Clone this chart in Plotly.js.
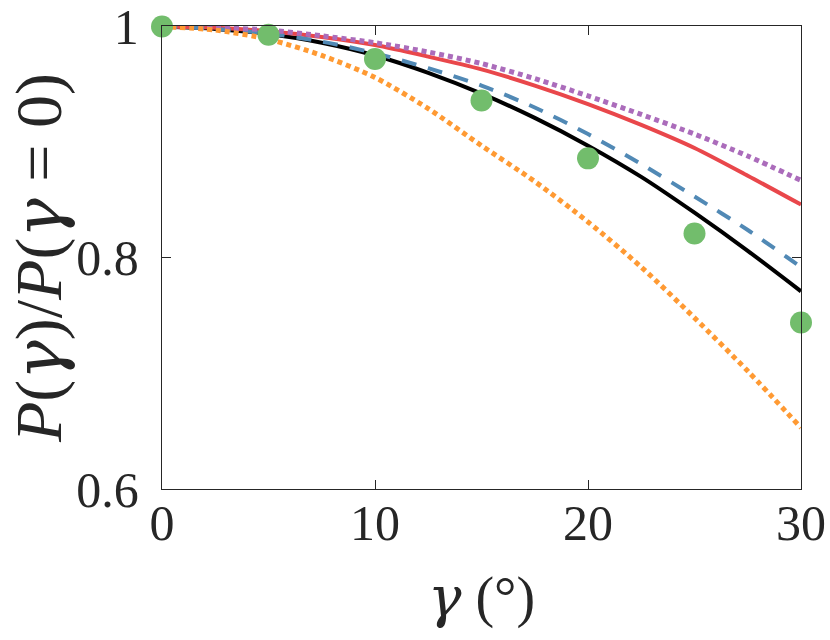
<!DOCTYPE html>
<html>
<head>
<meta charset="utf-8">
<script src="https://cdn.plot.ly/plotly-3.0.1.min.js"></script>
<style>
  html, body { margin: 0; padding: 0; background: #fff; }
  #chart { width: 830px; height: 640px; }
</style>
</head>
<body>
<div id="chart"></div>
<script>
/* ---------- data ---------- */
const gammaCurve = [0, 2.5, 5, 7.5, 10, 12.5, 15, 17.5, 20, 22.5, 25, 27.5, 30];

const blackSolid = [1, 0.998, 0.9935, 0.986, 0.975, 0.960, 0.942, 0.921, 0.897, 0.870, 0.839, 0.806, 0.771];
const blueDashed = [1, 0.998, 0.994, 0.987, 0.977, 0.964, 0.949, 0.930, 0.907, 0.881, 0.853, 0.824, 0.792];
const redSolid = [1, 0.999, 0.996, 0.991, 0.984, 0.974, 0.963, 0.949, 0.933, 0.915, 0.895, 0.871, 0.846];
const purpleDotted = [1, 0.999, 0.997, 0.992, 0.986, 0.978, 0.968, 0.955, 0.940, 0.924, 0.907, 0.888, 0.867];
const orangeDotted = [1, 0.997, 0.989, 0.975, 0.956, 0.929, 0.897, 0.866, 0.831, 0.792, 0.748, 0.702, 0.653];

const gammaPts = [0, 5, 10, 15, 20, 25, 30];
const greenPts = [1, 0.993, 0.972, 0.936, 0.886, 0.821, 0.744];

const xTicks = [0, 10, 20, 30];
const yTicks = [0.6, 0.8, 1];
const yTickText = ["0.6", "0.8", "1"];

/* ---------- traces ---------- */
function curve(y, color, dash, width) {
  return {
    x: gammaCurve,
    y: y,
    type: "scatter",
    mode: "lines",
    line: { color: color, width: width, dash: dash, shape: "spline", smoothing: 0.8 },
    hoverinfo: "skip",
    cliponaxis: false,
  };
}

const traces = [
  curve(blackSolid, "#000000", "solid", 4),
  curve(redSolid, "#e9474b", "solid", 4),
  curve(blueDashed, "#5189b5", "15px,12px", 4),
  curve(purpleDotted, "#ab6cbb", "5px,4px", 5),
  curve(orangeDotted, "#ff9a33", "5px,4px", 5),
  {
    x: gammaPts,
    y: greenPts,
    type: "scatter",
    mode: "markers",
    marker: { color: "#72bd6c", size: 22 },
    cliponaxis: false,
  },
];

// gamma drawn with a serif face that carries the glyph
const g = '<span style="font-family:DejaVu Serif"><i>γ</i></span>';
const FAM = "Liberation Serif";

const layout = {
  width: 830,
  height: 640,
  margin: { l: 162, r: 29, t: 26, b: 151 },
  paper_bgcolor: "#fff",
  plot_bgcolor: "#fff",
  showlegend: false,
  font: { family: FAM, size: 50, color: "#262626" },
  xaxis: {
    range: [0, 30],
    tickvals: xTicks,
    ticks: "inside",
    ticklen: 9,
    tickcolor: "#262626",
    showline: true,
    linecolor: "#262626",
    linewidth: 1.2,
    mirror: "ticks",
    showgrid: false,
    zeroline: false,
    tickfont: { family: FAM, size: 50, color: "#262626" },
    ticklabelstandoff: -10,
    title: {
      text: g + " (°)",
      font: { family: FAM, size: 56, color: "#262626" },
      standoff: 26,
    },
  },
  yaxis: {
    range: [0.6, 1.0005],
    tickvals: yTicks,
    ticktext: yTickText,
    ticks: "inside",
    ticklen: 9,
    tickcolor: "#262626",
    showline: true,
    linecolor: "#262626",
    linewidth: 1.2,
    mirror: "ticks",
    showgrid: false,
    zeroline: false,
    tickfont: { family: FAM, size: 50, color: "#262626" },
    ticklabelstandoff: 12,
    ticklabeloverflow: "allow",
    title: {
      text: "<i>P</i>(" + g + ")/<i>P</i>(" + g + " = 0)",
      font: { family: FAM, size: 66, color: "#262626" },
      standoff: 8,
    },
  },
};

Plotly.newPlot("chart", traces, layout, { displayModeBar: false, staticPlot: true });
</script>
</body>
</html>
